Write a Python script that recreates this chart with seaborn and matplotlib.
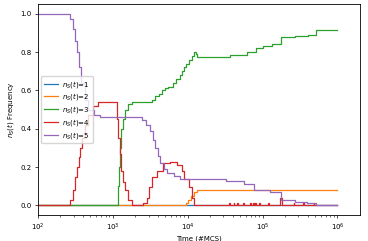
import numpy as np
import pandas as pd
import matplotlib
matplotlib.use("Agg")
import matplotlib.pyplot as plt
import seaborn as sns

# time points (MCS) and frequencies per cluster size
t1 = [1, 1000000]
v1 = [0.0, 0.0]

t2 = [1, 8900, 9500, 10200, 11000, 12000, 13200, 1000000]
v2 = [0.0, 0.0, 0.01, 0.03, 0.05, 0.07, 0.082, 0.082]

t3 = [1, 1122, 1160, 1200, 1250, 1300, 1380, 1450, 1600, 1800, 3390, 3700, 4100,
      4600, 5000, 5500, 6300, 7000, 7900, 8500, 9000, 9500, 10500, 11500, 12300,
      12800, 13200, 37000, 62000, 83000, 100000, 132000, 178000, 275000, 407000,
      513000, 1000000]
v3 = [0.0, 0.0, 0.1, 0.2, 0.3, 0.4, 0.45, 0.5, 0.53, 0.54, 0.55, 0.57, 0.58,
      0.6, 0.61, 0.62, 0.64, 0.66, 0.68, 0.7, 0.72, 0.74, 0.76, 0.78, 0.8,
      0.79, 0.775, 0.785, 0.8, 0.82, 0.83, 0.84, 0.88, 0.885, 0.89,
      0.915, 0.915]

t4 = [1, 251, 270, 290, 310, 330, 350, 370, 390, 420, 460, 540, 630, 1122, 1150,
      1190, 1230, 1300, 1380, 1450, 1600, 1780, 2290, 2500, 2840, 3090, 3390,
      3850, 4640, 5750, 7100, 8300, 8900, 10300, 11300, 12000,
      36000, 37000, 41000, 42000, 46000, 47000, 55000, 56500, 68000, 70000,
      74000, 76000, 80000, 82000, 90000, 92000, 120000, 123000, 170000, 180000,
      260000, 266000, 350000, 358000, 480000, 490000, 1000000]
v4 = [0.0, 0.0, 0.03, 0.08, 0.15, 0.2, 0.25, 0.3, 0.35, 0.42, 0.47, 0.52, 0.54,
      0.54, 0.45, 0.35, 0.27, 0.18, 0.12, 0.08, 0.03, 0.0, 0.0, 0.01, 0.04, 0.095,
      0.15, 0.18, 0.22, 0.225, 0.21, 0.18, 0.14, 0.095, 0.04, 0.0,
      0.01, 0.0, 0.01, 0.0, 0.01, 0.0, 0.01, 0.0, 0.01, 0.0,
      0.01, 0.0, 0.01, 0.0, 0.01, 0.0, 0.01, 0.0, 0.04, 0.0,
      0.01, 0.0, 0.01, 0.0, 0.01, 0.0, 0.0]

t5 = [1, 251, 270, 290, 310, 330, 350, 380, 420, 470, 560, 680, 2450, 2800, 3100,
      3400, 3650, 4000, 4300, 4800, 5300, 6500, 7800, 33000, 56000, 76000,
      126000, 174000, 275000, 390000, 525000, 1000000]
v5 = [1.0, 1.0, 0.97, 0.92, 0.86, 0.8, 0.72, 0.64, 0.55, 0.5, 0.47, 0.46, 0.445,
      0.42, 0.39, 0.34, 0.3, 0.26, 0.22, 0.19, 0.17, 0.155, 0.14, 0.125, 0.113,
      0.082, 0.07, 0.026, 0.017, 0.01, 0.0, 0.0]

labels = [r"$n_S(t)$=1", r"$n_S(t)$=2", r"$n_S(t)$=3", r"$n_S(t)$=4", r"$n_S(t)$=5"]

frames = []
for lab, t, v in zip(labels, [t1, t2, t3, t4, t5], [v1, v2, v3, v4, v5]):
    frames.append(pd.DataFrame({"t": t, "freq": v, "size": lab}))
df = pd.concat(frames, ignore_index=True)

plt.rcParams["font.size"] = 5
fig = plt.figure(figsize=(3.68, 2.41), dpi=100)
ax = fig.add_axes([0.103, 0.108, 0.875, 0.875])

sns.lineplot(data=df, x="t", y="freq", hue="size", hue_order=labels,
             palette=sns.color_palette("tab10", 5), drawstyle="steps-post",
             estimator=None, linewidth=0.9, ax=ax)

ax.set_xscale("log")
ax.set_xlim(left=100)
ax.set_xlabel("Time (#MCS)", fontsize=5, labelpad=2)
ax.set_ylabel(r"$n_S(t)$ Frequency", fontsize=5, labelpad=3)
ax.tick_params(labelsize=5, length=2.5, width=0.5, pad=2)
ax.tick_params(which="minor", length=1.5, width=0.4)
for s in ax.spines.values():
    s.set_linewidth(0.6)

handles, labs = ax.get_legend_handles_labels()
ax.legend(handles, labs, loc="center left", fontsize=5, framealpha=0.8,
          handlelength=2.0, borderpad=0.4, labelspacing=0.25, handletextpad=0.6)

fig.savefig("out.png", dpi=100)
